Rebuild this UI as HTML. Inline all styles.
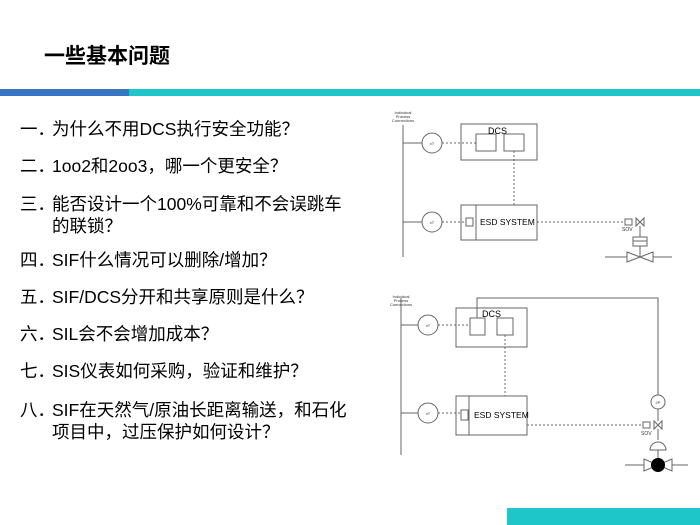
<html><head><style>
body{margin:0;width:700px;height:525px;background:#fff;position:relative;overflow:hidden;font-family:"Liberation Sans","Noto Sans CJK SC",sans-serif;}
.t{position:absolute;font-size:21px;font-weight:bold;left:44px;top:40px;color:#000}
.b1{position:absolute;left:0;top:89px;width:129px;height:7px;background:#3a75c4}
.b2{position:absolute;left:129px;top:89px;width:571px;height:7px;background:#1fc6c9}
.b3{position:absolute;left:507px;top:508px;width:193px;height:17px;background:#1fc6c9}
.q{position:absolute;left:20px;font-size:17.5px;line-height:22px;color:#000;white-space:nowrap}
.q span{display:inline-block;width:32px}
.q div{padding-left:32px}
</style></head><body>
<div class="t">一些基本问题</div>
<div class="b1"></div><div class="b2"></div><div class="b3"></div>
<div class="q" style="top:118px"><span>一．</span>为什么不用DCS执行安全功能？</div>
<div class="q" style="top:155px"><span>二．</span>1oo2和2oo3，哪一个更安全？</div>
<div class="q" style="top:193px"><span>三．</span>能否设计一个100%可靠和不会误跳车<div>的联锁？</div></div>
<div class="q" style="top:249px"><span>四．</span>SIF什么情况可以删除/增加？</div>
<div class="q" style="top:286px"><span>五．</span>SIF/DCS分开和共享原则是什么？</div>
<div class="q" style="top:323px"><span>六．</span>SIL会不会增加成本？</div>
<div class="q" style="top:360px"><span>七．</span>SIS仪表如何采购，验证和维护？</div>
<div class="q" style="top:399px"><span>八．</span>SIF在天然气/原油长距离输送，和石化<div>项目中，过压保护如何设计？</div></div>
<svg width="700" height="525" style="position:absolute;left:0;top:0" font-family="Liberation Sans,sans-serif">
<g stroke="#666" fill="none" stroke-width="1">
<line x1="403" y1="125" x2="403" y2="257"/>
<line x1="403" y1="143" x2="422" y2="143"/><circle cx="432" cy="143" r="10"/>
<line x1="403" y1="222" x2="422" y2="222"/><circle cx="432" cy="222" r="10"/>
<rect x="461" y="124" width="76" height="36"/>
<rect x="476" y="134" width="20" height="17"/><rect x="504" y="134" width="20" height="17"/>
<g stroke-dasharray="2,2"><line x1="442" y1="143" x2="476" y2="143"/><line x1="514" y1="151" x2="514" y2="205"/><line x1="442" y1="222" x2="466" y2="222"/><line x1="537" y1="222" x2="625" y2="222"/></g>
<rect x="461" y="205" width="76" height="35"/><line x1="476" y1="205" x2="476" y2="240"/>
<rect x="466" y="218" width="7" height="8"/>
<rect x="625" y="219" width="7" height="6"/>
<path d="M636 218 L644 226 L644 218 L636 226 Z"/>
<line x1="640" y1="226" x2="640" y2="237"/>
<rect x="633" y="237" width="14" height="9"/><line x1="633" y1="241" x2="647" y2="241"/>
<line x1="640" y1="246" x2="640" y2="257"/>
<line x1="605" y1="257" x2="627" y2="257"/><line x1="653" y1="257" x2="672" y2="257"/>
<path d="M627 252 L653 262 L653 252 L627 262 Z"/>

<line x1="401" y1="298" x2="401" y2="455"/>
<line x1="401" y1="325" x2="418" y2="325"/><circle cx="428" cy="325" r="10"/>
<line x1="401" y1="413" x2="418" y2="413"/><circle cx="428" cy="413" r="10"/>
<rect x="456" y="308" width="71" height="39"/>
<rect x="470" y="318" width="15" height="17"/><rect x="497" y="318" width="16" height="17"/>
<g stroke-dasharray="2,2"><line x1="438" y1="325" x2="470" y2="325"/><line x1="505" y1="335" x2="505" y2="396"/><line x1="438" y1="413" x2="461" y2="413"/><line x1="527" y1="425" x2="643" y2="425"/></g>
<polyline points="477,318 477,298 658,298 658,395"/>
<circle cx="658" cy="402" r="7"/><line x1="658" y1="409" x2="658" y2="421"/>
<rect x="456" y="396" width="71" height="39"/><line x1="469" y1="396" x2="469" y2="435"/>
<rect x="461" y="410" width="7" height="10"/>
<rect x="643" y="422" width="7" height="6"/>
<path d="M654 421 L662 429 L662 421 L654 429 Z"/>
<line x1="658" y1="429" x2="658" y2="440"/>
<path d="M650 450 A8 8 0 0 1 666 450 Z"/>
<line x1="658" y1="450" x2="658" y2="465"/>
<line x1="625" y1="465" x2="644" y2="465"/><line x1="672" y1="465" x2="688" y2="465"/>
<path d="M644 459 L672 471 L672 459 L644 471 Z"/>
</g>
<circle cx="658" cy="465" r="7" fill="#000"/>
<g fill="#333" font-size="4" text-anchor="middle">
<text x="403" y="114">Individual</text><text x="403" y="118">Process</text><text x="403" y="122">Connections</text>
<text x="401" y="298">Individual</text><text x="401" y="302">Process</text><text x="401" y="306">Connections</text>
<text x="432" y="145">xT</text><text x="432" y="224">xT</text><text x="428" y="327">xT</text><text x="428" y="415">xT</text><text x="658" y="404">I/P</text>
</g>
<g fill="#000" font-size="9"><text x="488" y="134">DCS</text><text x="482" y="317">DCS</text></g>
<g fill="#000" font-size="8.5"><text x="480" y="225">ESD SYSTEM</text><text x="474" y="418">ESD SYSTEM</text></g>
<g fill="#333" font-size="5"><text x="622" y="231">SOV</text><text x="641" y="435">SOV</text></g>
</svg>
</body></html>
